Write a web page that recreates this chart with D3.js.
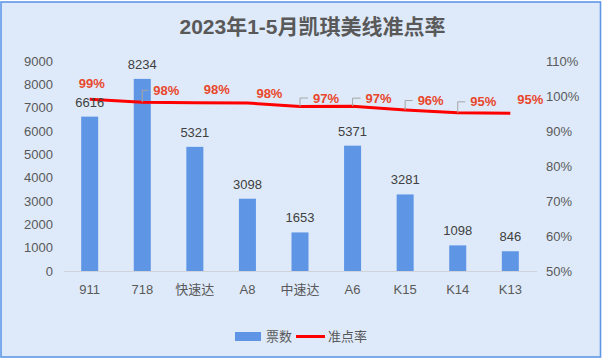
<!DOCTYPE html>
<html><head><meta charset="utf-8">
<script src="https://cdn.jsdelivr.net/npm/d3@7"></script>
<style>body{margin:0;background:#fff}svg{display:block}text{font-family:"Liberation Sans",Arial,"Noto Sans CJK SC",sans-serif}</style>
</head><body>
<svg id="c" width="602" height="361"></svg>
<script>
const categories = ["911","718","快速达","A8","中速达","A6","K15","K14","K13"];
const tickets = [6616,8234,5321,3098,1653,5371,3281,1098,846];
const rates = [0.991,0.982,0.981,0.980,0.970,0.971,0.960,0.952,0.951];
const leftTicks = [0,1000,2000,3000,4000,5000,6000,7000,8000,9000];
const rightTicks = [0.5,0.6,0.7,0.8,0.9,1.0,1.1];
const title = "2023年1-5月凯琪美线准点率";
const seriesNames = ["票数","准点率"];
// layout: label offsets for rate labels (centre relative to point) and whether a leader is drawn
const rateLabelLayout = [[2,-16,0],[24,-12,1],[22,-13,0],[22,-10,0],[26,-8.5,1],[26,-8,1],[25.5,-9.5,1],[25.5,-11,1],[20,-14,0]];

const svg = d3.select("#c");
svg.append("rect").attr("x",1).attr("y",2).attr("width",599.5).attr("height",355).attr("fill","#DEEAF9").attr("stroke","#5E97E6").attr("stroke-width",1.6);

const x = d3.scaleBand().domain(categories).range([63.4,536.6]).padding(0);
const yL = d3.scaleLinear().domain([0,9000]).range([271,61]);
const yR = d3.scaleLinear().domain([0.5,1.1]).range([271,61]);
const cx = d => x(d)+x.bandwidth()/2;
const barW = 17;

svg.append("text").attr("x",312.5).attr("y",34).attr("text-anchor","middle").attr("font-size",21).attr("font-weight","bold").attr("fill","#595959").text(title);

// left axis
const gL = svg.append("g").attr("transform","translate(53,0)")
  .call(d3.axisLeft(yL).tickValues(leftTicks).tickSize(0).tickPadding(0).tickFormat(d3.format("d")));
gL.select(".domain").remove();
gL.selectAll("text").attr("font-size",13).attr("fill","#595959").attr("font-family",null);
// right axis
const gR = svg.append("g").attr("transform","translate(546,0)")
  .call(d3.axisRight(yR).tickValues(rightTicks).tickSize(0).tickPadding(0).tickFormat(d3.format(".0%")));
gR.select(".domain").remove();
gR.selectAll("text").attr("font-size",13).attr("fill","#595959").attr("font-family",null);
// x axis
const gX = svg.append("g").attr("transform","translate(0,271)")
  .call(d3.axisBottom(x).tickSize(0).tickPadding(14));
gX.select(".domain").attr("stroke","#D0D4DA").attr("stroke-width",1);
gX.selectAll("text").attr("font-size",13).attr("fill","#595959").attr("font-family",null);

// bars
svg.append("g").selectAll("rect").data(tickets).join("rect")
  .attr("x",(d,i)=>cx(categories[i])-barW/2).attr("width",barW)
  .attr("y",d=>yL(d)).attr("height",d=>yL(0)-yL(d)).attr("fill","#5E95E5");

// line
const line = d3.line().x((d,i)=>cx(categories[i])).y(d=>yR(d));
svg.append("path").datum(rates).attr("d",line).attr("fill","none").attr("stroke","#FF0000").attr("stroke-width",3);

// bar labels
svg.append("g").selectAll("text").data(tickets).join("text")
  .attr("x",(d,i)=>cx(categories[i])).attr("y",d=>yL(d)-10)
  .attr("text-anchor","middle").attr("font-size",13).attr("fill","#404040").text(d=>d);

// rate leaders and labels
const fmt = d3.format(".0%");
rates.forEach((r,i)=>{
  const px = cx(categories[i]), py = yR(r);
  const [dx,dy,lead] = rateLabelLayout[i];
  const lx = px+dx, ly = py+dy;
  if(lead){
    svg.append("path").attr("d",`M${px},${py}V${ly}H${lx-18}`).attr("fill","none").attr("stroke","#A6A6A6").attr("stroke-width",1);
  }
  svg.append("text").attr("x",lx).attr("y",ly+4.6).attr("text-anchor","middle").attr("font-size",13).attr("font-weight","bold").attr("fill","#E8472C").text(fmt(r));
});

// legend
svg.append("rect").attr("x",235).attr("y",332).attr("width",26).attr("height",9).attr("fill","#5E95E5");
svg.append("text").attr("x",266).attr("y",341).attr("font-size",13).attr("fill","#595959").text(seriesNames[0]);
svg.append("line").attr("x1",296).attr("x2",325).attr("y1",336.5).attr("y2",336.5).attr("stroke","#FF0000").attr("stroke-width",3);
svg.append("text").attr("x",328).attr("y",341).attr("font-size",13).attr("fill","#595959").text(seriesNames[1]);
</script>
</body></html>
